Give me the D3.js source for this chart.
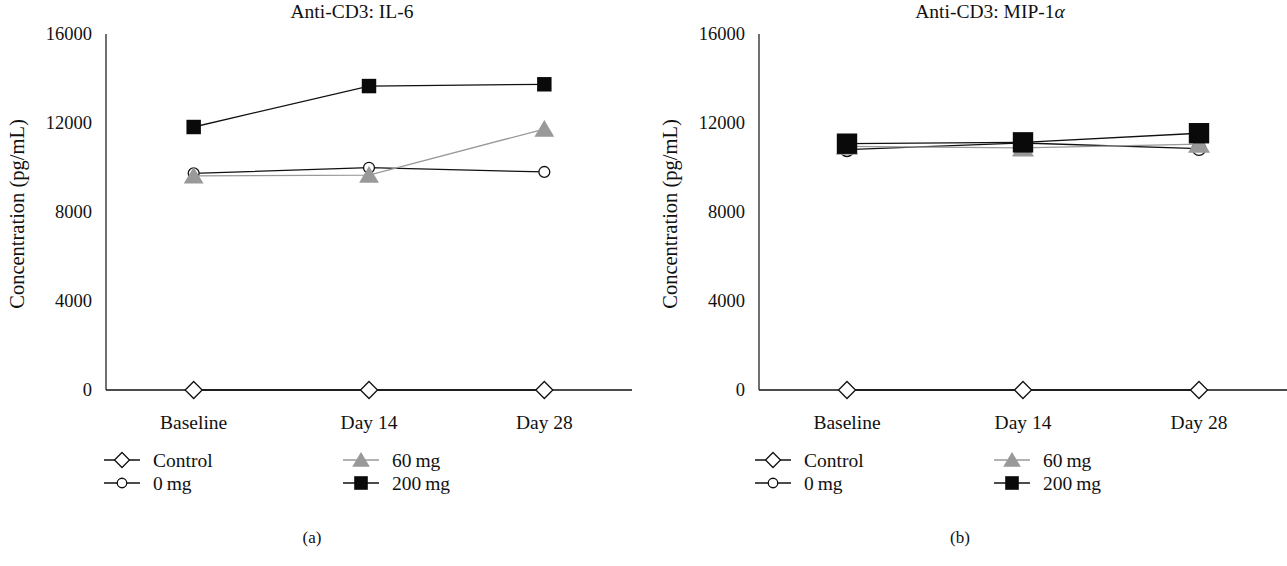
<!DOCTYPE html>
<html>
<head>
<meta charset="utf-8">
<script src="https://cdn.jsdelivr.net/npm/d3@7.9.0/dist/d3.min.js"></script>
<style>
  body { margin: 0; background: #fff; }
  svg { display: block; font-family: "Liberation Serif", "DejaVu Serif", serif; }
  text { fill: #111; }
</style>
</head>
<body>
<svg id="chart" width="1287" height="566"></svg>
<script>
// values
const categories = ["Baseline", "Day 14", "Day 28"];
const seriesNames = ["Control", "0\u2009mg", "60\u2009mg", "200\u2009mg"];
const yTicks = [0, 4000, 8000, 12000, 16000];

const il6Control = [0, 0, 0];
const il6Mg0 = [9740, 9990, 9800];
const il6Mg60 = [9620, 9660, 11730];
const il6Mg200 = [11820, 13660, 13740];

const mipControl = [0, 0, 0];
const mipMg0 = [10800, 11100, 10850];
const mipMg60 = [10950, 10880, 11050];
const mipMg200 = [11070, 11130, 11540];

const svg = d3.select("#chart");

const styles = [
  { shape: "diamond", line: "#111", fill: "#fff", stroke: "#111" },
  { shape: "circle", line: "#111", fill: "#fff", stroke: "#111" },
  { shape: "triangle", line: "#999", fill: "#999", stroke: "none" },
  { shape: "square", line: "#111", fill: "#0a0a0a", stroke: "none" }
];

function marker(sel, shape, s) {
  // s = rough half size
  if (shape === "diamond") {
    sel.append("path").attr("d", `M0,${-s}L${s},0L0,${s}L${-s},0Z`);
  } else if (shape === "circle") {
    sel.append("circle").attr("r", s * 0.68);
  } else if (shape === "triangle") {
    sel.append("path").attr("d", `M0,${-s}L${s * 1.1},${s * 0.85}L${-s * 1.1},${s * 0.85}Z`);
  } else {
    sel.append("rect").attr("x", -s * 0.85).attr("y", -s * 0.85)
      .attr("width", s * 1.7).attr("height", s * 1.7);
  }
}

function drawPanel(opt) {
  const g = svg.append("g");
  const x = d3.scalePoint().domain(categories).range([opt.left, opt.right]).padding(0.5);
  const y = d3.scaleLinear().domain([0, 16000]).range([390, 34]);

  // y axis: line + labels, no ticks
  g.append("line").attr("x1", opt.left).attr("x2", opt.left)
    .attr("y1", y(16000)).attr("y2", y(0)).attr("stroke", "#111").attr("stroke-width", 1.2);
  g.selectAll(".ytick").data(yTicks).join("text")
    .attr("x", opt.left - 14).attr("y", d => y(d)).attr("dy", "0.35em")
    .attr("text-anchor", "end").attr("font-size", 18.5).text(d => d);

  // x axis
  g.append("line").attr("x1", opt.left).attr("x2", opt.right)
    .attr("y1", y(0)).attr("y2", y(0)).attr("stroke", "#111").attr("stroke-width", 1.4);
  g.selectAll(".xtick").data(categories).join("text")
    .attr("x", d => x(d)).attr("y", 422).attr("dy", "0.35em")
    .attr("text-anchor", "middle").attr("font-size", 19.5).text(d => d);

  // titles
  const tt = g.append("text").attr("x", opt.titleX).attr("y", 18)
    .attr("text-anchor", "middle").attr("font-size", 19.5);
  tt.append("tspan").text(opt.title);
  if (opt.titleItalic) tt.append("tspan").attr("font-style", "italic").text(opt.titleItalic);

  g.append("text").attr("transform", `translate(${opt.left - 89},214) rotate(-90)`)
    .attr("text-anchor", "middle").attr("dy", "0.35em").attr("font-size", 20.5)
    .text("Concentration (pg/mL)");

  // series
  const line = d3.line().x((d, i) => x(categories[i])).y(d => y(d));
  opt.series.forEach((vals, k) => {
    const st = styles[k];
    g.append("path").datum(vals).attr("d", line)
      .attr("fill", "none").attr("stroke", st.line).attr("stroke-width", 1.3);
    vals.forEach((v, i) => {
      const m = g.append("g")
        .attr("transform", `translate(${x(categories[i])},${y(v)})`)
        .attr("fill", st.fill).attr("stroke", st.stroke).attr("stroke-width", 1.3);
      marker(m, st.shape, opt.sizes[k]);
    });
  });

  // legend
  const legendPos = [
    [opt.legendX, 460], [opt.legendX, 483],
    [opt.legendX + 239, 460], [opt.legendX + 239, 483]
  ];
  seriesNames.forEach((name, k) => {
    const st = styles[k];
    const [lx, ly] = legendPos[k];
    const lg = g.append("g").attr("transform", `translate(${lx},${ly})`);
    lg.append("line").attr("x1", 0).attr("x2", 36)
      .attr("stroke", st.line).attr("stroke-width", 1.3);
    const m = lg.append("g").attr("transform", "translate(18,0)")
      .attr("fill", st.fill).attr("stroke", st.stroke).attr("stroke-width", 1.3);
    marker(m, st.shape, [7.5, 7, 8, 8][k]);
    lg.append("text").attr("x", 49).attr("dy", "0.35em").attr("font-size", 19.5).text(name);
  });

  g.append("text").attr("x", opt.captionX).attr("y", 537).attr("dy", "0.35em")
    .attr("text-anchor", "middle").attr("font-size", 17).text(opt.caption);
}

drawPanel({
  left: 106, right: 632, titleX: 352, title: "Anti-CD3: IL-6",
  series: [il6Control, il6Mg0, il6Mg60, il6Mg200],
  sizes: [8.5, 8, 9, 8.5], legendX: 104, captionX: 312, caption: "(a)"
});
drawPanel({
  left: 759, right: 1287, titleX: 990, title: "Anti-CD3: MIP-1", titleItalic: "\u03b1",
  series: [mipControl, mipMg0, mipMg60, mipMg200],
  sizes: [8.5, 10, 10, 12], legendX: 755, captionX: 960, caption: "(b)"
});
</script>
</body>
</html>
